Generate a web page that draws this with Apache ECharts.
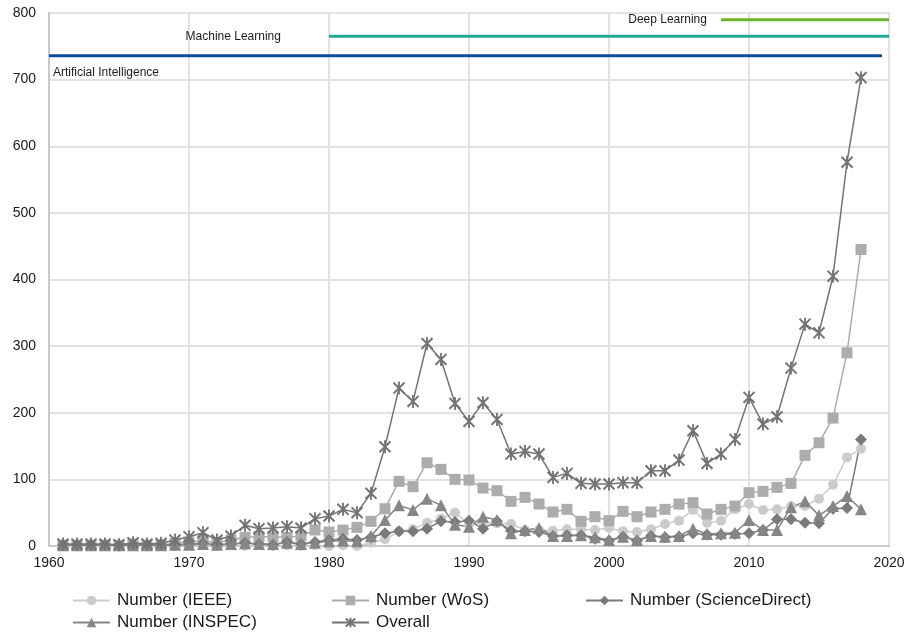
<!DOCTYPE html>
<html>
<head>
<meta charset="utf-8">
<script src="https://cdn.jsdelivr.net/npm/echarts@6/dist/echarts.min.js"></script>
<style>
  html, body { margin: 0; padding: 0; background: #fff; }
  #main { width: 912px; height: 632px; }
</style>
</head>
<body>
<div id="main"></div>
<script>
// years 1961 .. 2018
var firstYear = 1961;

var ieee = [0,0,0,0,0,0,0,0,0,1, 1,0,1,0,1,0,1,0,1,0,
    1,0,5,10,22,25,35,41,50,33, 35,34,33,24,24,23,25,25,24,27,
    22,21,25,33,38,54,35,38,55,63, 54,55,60,60,71,92,133,146];
var wos = [1,1,1,1,1,3,1,2,4,6, 8,5,9,13,14,14,13,15,24,21,
    24,28,37,56,97,89,125,115,100,99, 87,83,67,73,63,51,55,37,44,38,
    52,44,51,55,63,65,48,55,60,80, 82,88,94,136,155,192,290,445];
var scienceDirect = [2,2,2,2,1,2,2,2,2,3, 4,2,3,5,3,2,6,3,6,9,
    11,9,13,19,22,22,26,37,36,38, 26,37,23,22,21,15,16,16,11,8,
    14,8,15,13,14,19,17,17,18,19, 24,40,40,35,34,56,57,160];
var inspec = [1,1,1,1,1,1,1,1,2,2, 3,2,3,4,3,3,5,3,5,7,
    8,7,15,39,61,54,71,61,32,29, 44,39,19,24,27,15,15,16,13,9,
    14,9,15,14,15,26,18,19,20,39, 24,24,58,67,46,60,75,55];
var overall = [3,3,3,3,2,5,3,4,9,14, 20,9,15,31,26,27,29,27,41,45,
    55,50,79,149,237,217,304,280,214,187, 215,190,138,142,138,103,109,94,93,93,
    95,95,113,113,129,173,124,138,160,223, 183,194,267,333,320,405,576,703];

// era bars drawn above the data
var eraNames = ['Artificial Intelligence', 'Machine Learning', 'Deep Learning'];
var eraStart = [1960, 1980, 2008];
var eraEnd = [2019.5, 2020, 2020];
var eraLevel = [736, 765, 790];
var eraColors = ['#0e4d9c', '#22a88e', '#6cb22a'];

// legend layout: two rows, three columns
var legendNames = ['Number (IEEE)', 'Number (WoS)', 'Number (ScienceDirect)', 'Number (INSPEC)', 'Overall'];
var legendLeft = [72, 331, 585, 72, 331];
var legendTop = [592, 592, 592, 614, 614];

function pairs(values) {
    var out = [];
    for (var i = 0; i < values.length; i++) {
        out.push([firstYear + i, values[i]]);
    }
    return out;
}

var asterisk = 'path://M0,1L10,11M10,1L0,11M5,0L5,12';

function dataSeries(name, values, color, symbol, size, lineColor) {
    return {
        name: name,
        type: 'line',
        data: pairs(values),
        symbol: symbol,
        symbolSize: size,
        showSymbol: true,
        lineStyle: { color: lineColor || color, width: 1.5 },
        itemStyle: { color: color },
        emphasis: { disabled: true },
        z: 2
    };
}

var series = [
    dataSeries('Number (IEEE)', ieee, '#cbcbcb', 'circle', 10),
    dataSeries('Number (WoS)', wos, '#acacac', 'rect', 11),
    dataSeries('Number (ScienceDirect)', scienceDirect, '#7a7a7a', 'diamond', 12),
    dataSeries('Number (INSPEC)', inspec, '#868686', 'triangle', 12),
    {
        name: 'Overall',
        type: 'line',
        data: pairs(overall),
        symbol: asterisk,
        symbolSize: [11, 13],
        lineStyle: { color: '#737373', width: 1.5 },
        itemStyle: { color: 'rgba(0,0,0,0)', borderColor: '#737373', borderWidth: 2 },
        emphasis: { disabled: true },
        z: 3
    }
];

var eraLabelPos = [
    { position: [4, 11], align: 'left', verticalAlign: 'top' },
    { position: 'left', distance: 48 },
    { position: 'left', distance: 14 }
];

for (var k = 0; k < eraNames.length; k++) {
    var lbl = eraLabelPos[k];
    series.push({
        name: eraNames[k],
        type: 'line',
        silent: true,
        showSymbol: true,
        symbol: 'circle',
        symbolSize: 0.1,
        lineStyle: { color: eraColors[k], width: 3 },
        itemStyle: { color: eraColors[k] },
        emphasis: { disabled: true },
        z: 4,
        data: [
            {
                value: [eraStart[k], eraLevel[k]],
                label: {
                    show: true,
                    formatter: eraNames[k],
                    position: lbl.position,
                    distance: lbl.distance,
                    align: lbl.align,
                    verticalAlign: lbl.verticalAlign,
                    color: '#1a1a1a',
                    fontSize: 12,
                    fontFamily: 'Liberation Sans, Arial, sans-serif'
                }
            },
            { value: [eraEnd[k], eraLevel[k]] }
        ]
    });
}

var legendText = { fontSize: 17, color: '#1a1a1a', fontFamily: 'Liberation Sans, Arial, sans-serif', padding: [0, 0, 0, 2] };
var legends = [];
for (var j = 0; j < legendNames.length; j++) {
    legends.push({
        data: [legendNames[j]],
        left: legendLeft[j],
        top: legendTop[j],
        itemWidth: 37,
        itemHeight: 12,
        itemGap: 0,
        padding: 0,
        selectedMode: false,
        textStyle: legendText
    });
}

var option = {
    animation: false,
    backgroundColor: '#ffffff',
    grid: {
        left: 49, right: 23, top: 13, bottom: 86,
        show: true, borderColor: '#c9c9c9', borderWidth: 2
    },
    legend: legends,
    xAxis: {
        type: 'value',
        min: 1960, max: 2020, interval: 10,
        axisLine: { show: true, lineStyle: { color: '#c9c9c9', width: 2 } },
        axisTick: { show: false },
        axisLabel: {
            color: '#1a1a1a', fontSize: 14, margin: 10,
            fontFamily: 'Liberation Sans, Arial, sans-serif',
            formatter: function (v) { return String(v); }
        },
        splitLine: { show: true, lineStyle: { color: '#e2e2e2', width: 2 } }
    },
    yAxis: {
        type: 'value',
        min: 0, max: 800, interval: 100,
        axisLine: { show: true, lineStyle: { color: '#c9c9c9', width: 2 } },
        axisTick: { show: false },
        axisLabel: { color: '#1a1a1a', fontSize: 14, margin: 13, fontFamily: 'Liberation Sans, Arial, sans-serif' },
        splitLine: { show: true, lineStyle: { color: '#e2e2e2', width: 2 } }
    },
    series: series
};

var myChart = echarts.init(document.getElementById('main'));
myChart.setOption(option);
</script>
</body>
</html>
